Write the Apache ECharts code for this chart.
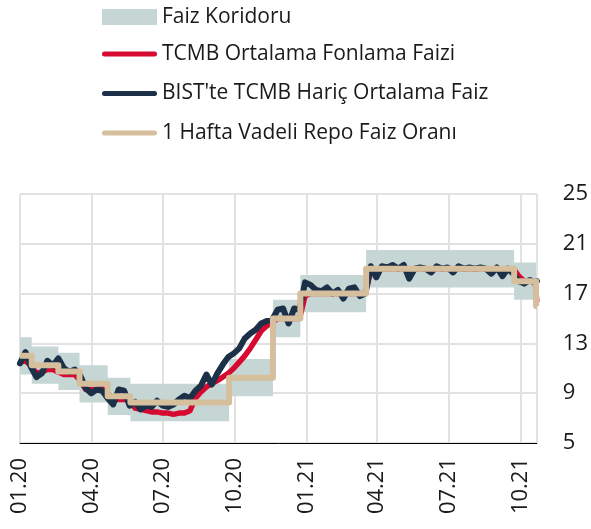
<!DOCTYPE html>
<html>
<head>
<meta charset="utf-8">
<script src="https://cdn.jsdelivr.net/npm/echarts@6/dist/echarts.min.js"></script>
<style>
html,body{margin:0;padding:0;background:#fff}
#main{width:591px;height:529px}
</style>
</head>
<body>
<div id="main"></div>
<script>
// politika faizi degisim tarihleri (repo adim cizgisi ve koridor)
var stepDates = ['2020-01-01','2020-01-16','2020-02-19','2020-03-17','2020-04-22','2020-05-21',
                 '2020-09-24','2020-11-19','2020-12-24','2021-03-18','2021-09-23','2021-10-21','2021-10-22'];
var repoRate     = [12, 11.25, 10.75, 9.75, 8.75, 8.25, 10.25, 15, 17, 19, 18, 16, 16];
var corridorLow  = [10.5, 9.75, 9.25, 8.25, 7.25, 6.75, 8.75, 13.5, 15.5, 17.5, 16.5, 14.5, 14.5];
var corridorHigh = [13.5, 12.75, 12.25, 11.25, 10.25, 9.75, 11.75, 16.5, 18.5, 20.5, 19.5, 17.5, 17.5];

// haftalik gozlemler, 01.01.2020'den itibaren, son deger 22.10.2021
var weekStart = '2020-01-01';
var lastDate = '2021-10-22';
var bistRate = [
  11.4, 12.3, 11.1, 10.3, 10.6, 11.6, 11.2, 11.8, 11.0, 10.7,
  10.9, 10.4, 9.4, 9.0, 9.3, 9.2, 8.6, 8.1, 9.3, 9.2,
  8.0, 8.3, 7.7, 8.0, 7.9, 8.4, 8.0, 7.9, 8.1, 8.5,
  8.8, 8.6, 9.2, 9.6, 10.5, 9.7, 10.6, 11.3, 11.9, 12.2,
  12.6, 13.4, 13.8, 14.1, 14.6, 14.8, 14.9, 15.7, 15.8, 14.6,
  15.8, 15.7, 17.9, 17.7, 17.3, 17.2, 17.5, 17.0, 17.3, 16.6,
  17.4, 17.5, 16.8, 17.0, 19.2, 18.3, 19.2, 19.1, 19.3, 19.0,
  19.3, 18.2, 19.0, 19.1, 19.0, 18.7, 19.2, 19.0, 19.1, 18.7,
  19.2, 19.0, 19.1, 19.0, 19.1, 19.0, 18.6, 19.1, 18.4, 19.0,
  18.6, 18.0, 17.8, 18.1, 17.9, 18.0
];
var tcmbRate = [
  11.5, 11.6, 11.2, 10.6, 10.7, 10.9, 10.9, 10.7, 10.5, 10.5,
  10.5, 10.0, 9.3, 9.3, 9.3, 9.4, 9.0, 8.5, 8.5, 8.5,
  8.4, 7.8, 7.7, 7.6, 7.5, 7.5, 7.4, 7.4, 7.3, 7.4,
  7.4, 7.6, 8.6, 9.1, 9.5, 9.8, 10.0, 10.3, 10.6, 11.0,
  11.5, 12.0, 12.6, 13.3, 14.0, 14.4, 14.7, 15.0, 15.0, 15.0,
  15.0, 15.0, 16.8, 17.0, 17.0, 17.0, 17.0, 17.0, 17.0, 17.0,
  17.0, 17.0, 17.0, 17.0, 18.9, 19.0, 19.0, 19.0, 19.0, 19.0,
  19.0, 19.0, 19.0, 19.0, 19.0, 19.0, 19.0, 19.0, 19.0, 19.0,
  19.0, 19.0, 19.0, 19.0, 19.0, 19.0, 19.0, 19.0, 19.0, 19.0,
  19.0, 18.4, 18.0, 18.0, 17.9, 16.3
];

var DAY = 24 * 3600 * 1000;
var weekDates = [];
var t0 = echarts.time.parse(weekStart).getTime();
for (var i = 0; i < bistRate.length - 1; i++) {
    weekDates.push(t0 + i * 7 * DAY);
}
weekDates.push(echarts.time.parse(lastDate).getTime());

var stepTimes = stepDates.map(function (d) { return echarts.time.parse(d).getTime(); });

function pairs(xs, ys) {
    var out = [];
    for (var i = 0; i < xs.length; i++) out.push([xs[i], ys[i]]);
    return out;
}
// koridor genisligi (ust - alt), alt seri uzerine yigilir
var bandWidth = [];
for (var i = 0; i < corridorHigh.length; i++) bandWidth.push(corridorHigh[i] - corridorLow[i]);

function pad(n) { return n < 10 ? '0' + n : '' + n; }

var FONT = 'Open Sans';
var capsule = 'path://M2.5,0 H52.5 A2.5,2.5 0 0 1 52.5,5 H2.5 A2.5,2.5 0 0 1 2.5,0 Z';
var legendText = { fontFamily: FONT, fontSize: 21, color: '#1a1a1a', lineHeight: 22 };

var myChart = echarts.init(document.getElementById('main'));
var option = {
    animation: false,
    textStyle: { fontFamily: FONT },
    legend: [
        {
            data: ['Faiz Koridoru'],
            left: 102, top: 6, padding: 0,
            itemWidth: 55, itemHeight: 16,
            icon: 'rect',
            textStyle: legendText
        },
        {
            data: ['TCMB Ortalama Fonlama Faizi', "BIST'te TCMB Hariç Ortalama Faiz", '1 Hafta Vadeli Repo Faiz Oranı'],
            orient: 'vertical',
            left: 102, top: 43, padding: 0,
            itemWidth: 55, itemHeight: 5, itemGap: 17.5,
            icon: capsule,
            textStyle: legendText
        }
    ],
    grid: { left: 20, right: 54, top: 194, bottom: 86 },
    xAxis: {
        type: 'time',
        min: stepDates[0],
        max: lastDate,
        minInterval: 80 * DAY,
        maxInterval: 100 * DAY,
        axisLine: { show: true, lineStyle: { color: '#000', width: 1 } },
        axisTick: { show: false },
        splitLine: { show: true, lineStyle: { color: '#e2e2e2', width: 2 } },
        axisLabel: {
            rotate: 90,
            margin: 15,
            fontSize: 22,
            color: '#1a1a1a',
            fontFamily: FONT,
            formatter: function (val) {
                var d = new Date(val);
                return pad(d.getMonth() + 1) + '.' + String(d.getFullYear()).slice(2);
            }
        }
    },
    yAxis: {
        type: 'value',
        position: 'right',
        min: 5, max: 25, interval: 4,
        axisLine: { show: false },
        axisTick: { show: false },
        splitLine: { lineStyle: { color: '#e2e2e2', width: 2 } },
        axisLabel: { margin: 26, fontSize: 22, color: '#1a1a1a', fontFamily: FONT }
    },
    series: [
        {
            name: 'koridorAlt',
            type: 'line',
            step: 'end',
            stack: 'koridor',
            symbol: 'none',
            silent: true,
            lineStyle: { width: 0, opacity: 0 },
            data: pairs(stepTimes, corridorLow)
        },
        {
            name: 'Faiz Koridoru',
            type: 'line',
            step: 'end',
            stack: 'koridor',
            symbol: 'none',
            silent: true,
            color: '#c6d6d5',
            lineStyle: { width: 0, opacity: 0 },
            areaStyle: { color: '#c6d6d5', opacity: 1 },
            data: pairs(stepTimes, bandWidth)
        },
        {
            name: 'TCMB Ortalama Fonlama Faizi',
            type: 'line',
            symbol: 'none',
            color: '#d60a31',
            lineStyle: { width: 5.5, color: '#d60a31', join: 'round', cap: 'butt' },
            data: pairs(weekDates, tcmbRate)
        },
        {
            name: "BIST'te TCMB Hariç Ortalama Faiz",
            type: 'line',
            symbol: 'none',
            color: '#1c3048',
            lineStyle: { width: 6, color: '#1c3048', join: 'round', cap: 'round' },
            data: pairs(weekDates, bistRate)
        },
        {
            name: '1 Hafta Vadeli Repo Faiz Oranı',
            type: 'line',
            step: 'end',
            symbol: 'none',
            color: '#d5bf9c',
            lineStyle: { width: 6, color: '#d5bf9c', join: 'round' },
            data: pairs(stepTimes, repoRate)
        }
    ]
};
myChart.setOption(option);
</script>
</body>
</html>
